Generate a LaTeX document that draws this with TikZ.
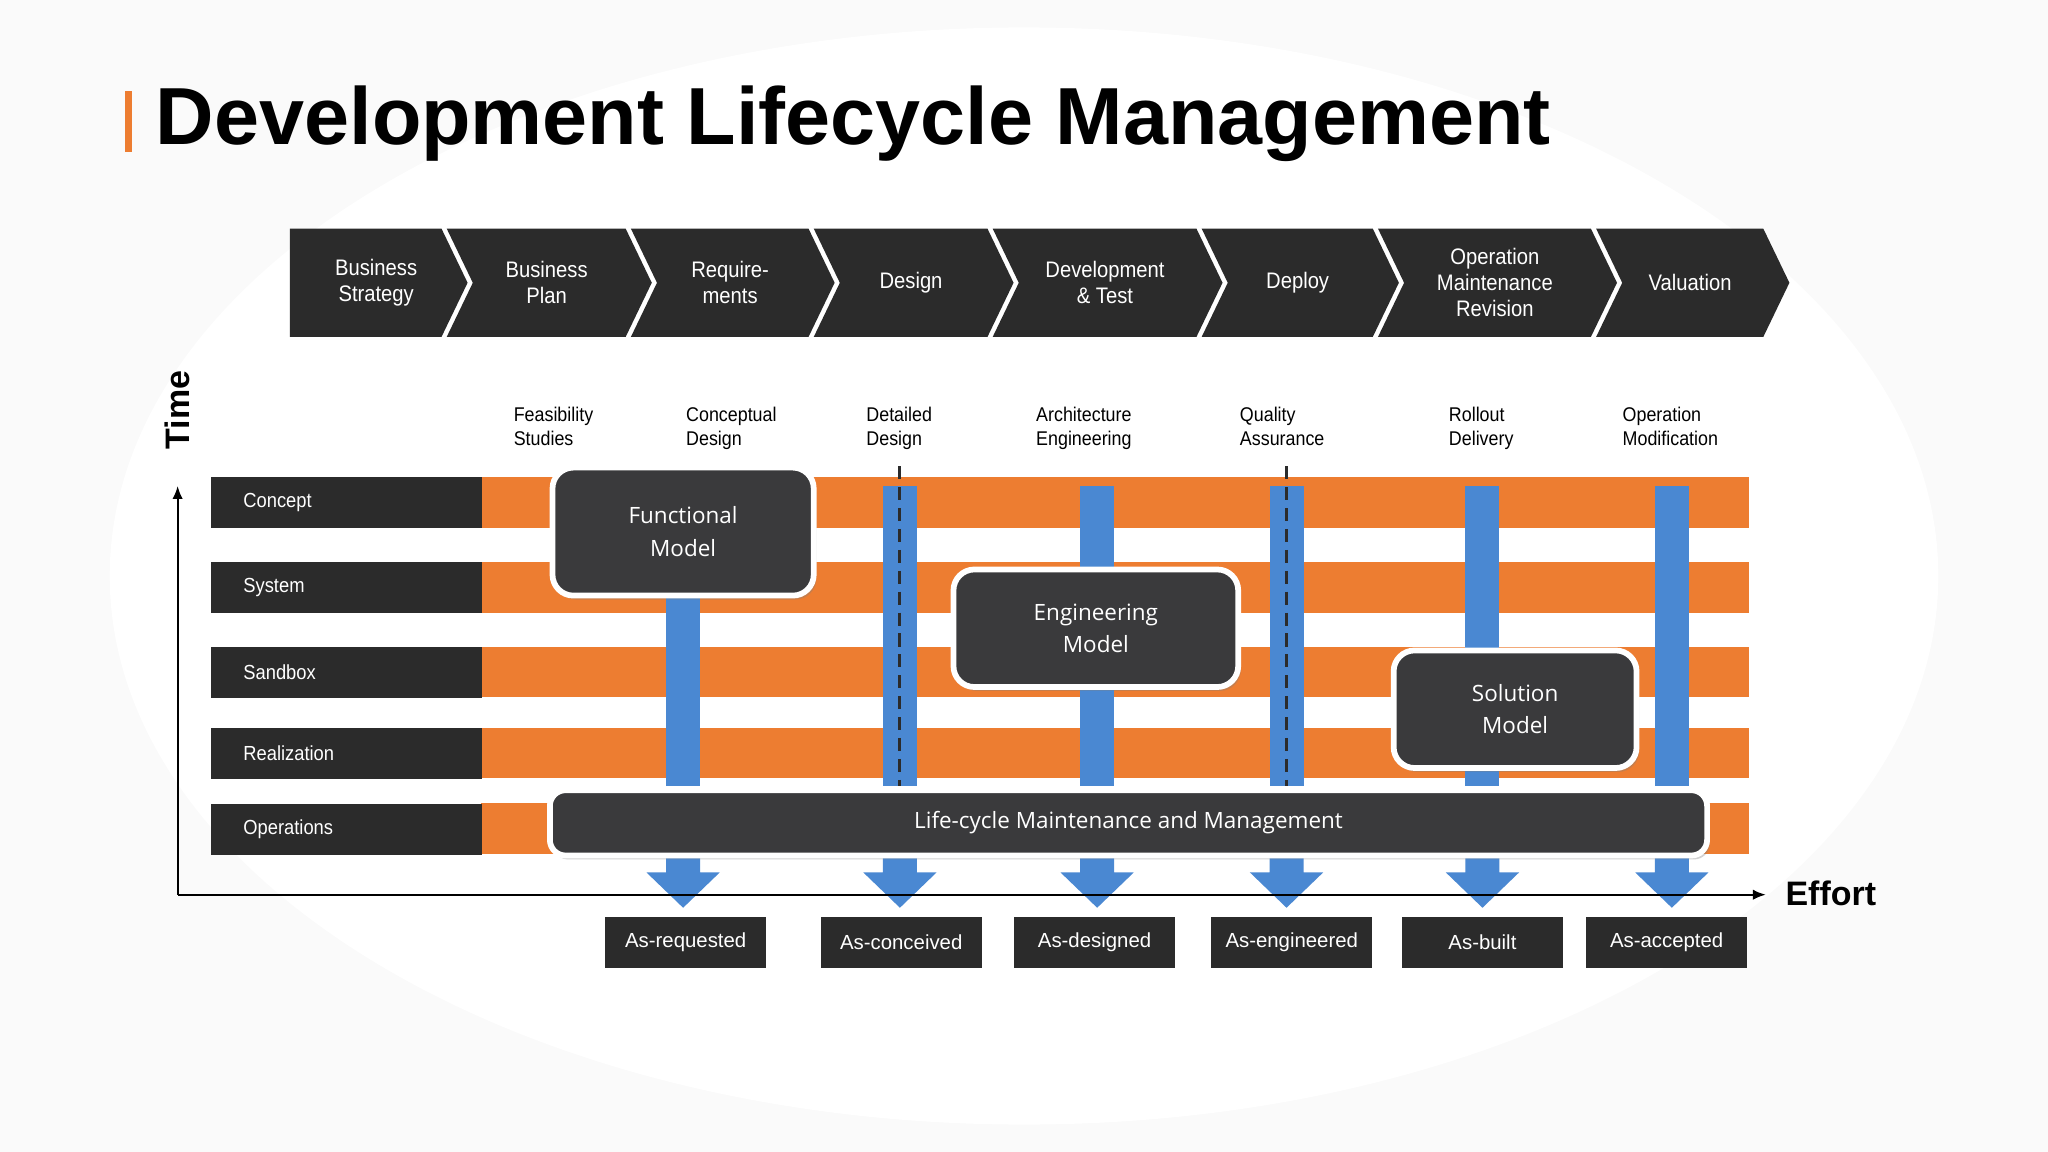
\documentclass[tikz,border=0pt]{standalone}
\usepackage{fontspec}
\setmainfont{Liberation Sans}
\newfontfamily\op{Open Sans}
\usetikzlibrary{shadows,arrows.meta}
\definecolor{dk}{HTML}{2B2B2B}
\definecolor{bx}{HTML}{3A3A3C}
\definecolor{org}{HTML}{ED7D31}
\definecolor{blu}{HTML}{4A88D2}
\begin{document}
\begin{tikzpicture}[x=0.5pt,y=-0.5pt,
 chev/.style={fill=dk},
 ctext/.style={text=white,font=\fontsize{8.6}{10}\selectfont,align=center,xscale=0.9},
 row/.style={fill=dk,minimum width=104pt,minimum height=19.5pt,anchor=north west,inner sep=0pt},
 rtext/.style={text=white,font=\fontsize{7.8}{9}\selectfont,xscale=0.9},
 model/.style={fill=bx,draw=white,line width=2.2pt,rounded corners=8pt,text=white,align=center,font=\op\fontsize{8.6}{12.5}\selectfont,drop shadow={opacity=0.35,shadow xshift=1pt,shadow yshift=-1.5pt}},
 outbox/.style={fill=dk,text=white,minimum width=61.5pt,minimum height=19.5pt,inner sep=0pt,font=\fontsize{7.8}{9}\selectfont},
 col/.style={anchor=north west,align=left,font=\fontsize{7.6}{9.5}\selectfont,inner sep=0pt,xscale=0.9},
 bar/.style={fill=blu},
]
\useasboundingbox (0,0) rectangle (1568,882);
\fill[white!96!gray] (0,0) rectangle (1568,882);
\fill[white] (784,441) ellipse [x radius=700, y radius=420];
% title
\fill[org] (96,70) rectangle (101,116);
\node[anchor=base west,inner sep=0pt,font=\bfseries\fontsize{31}{36}\selectfont] (title) at (119,111) {Development Lifecycle Management};
% chevrons
\foreach \a/\b/\t [count=\i] in {222/342/{Business\\Strategy},342/483/{Business\\Plan},483/623/{Require-\\ments},623/760/{Design},760/920/{Development\\\& Test},920/1055/{Deploy},1055/1222/{Operation\\Maintenance\\Revision},1222/1354/{Valuation}}{
 \ifnum\i=1
  \fill[chev] (\a,175) -- (\b-4,175) -- (\b+16,216.5) -- (\b-4,258) -- (\a,258) -- cycle;
 \else
  \fill[chev] (\a,175) -- (\b-4,175) -- (\b+16,216.5) -- (\b-4,258) -- (\a,258) -- (\a+20,216.5) -- cycle;
 \fi
 \node[ctext] (ch\i) at ({(\a+\b)/2+6},216.5) {\t};
}
% rows
\foreach \y/\t [count=\i] in {365/Concept,430/System,495/Sandbox,557/Realization,615/Operations}{
 \fill[org] (368,\y) rectangle (1339,\y+39);
 \node[row] (r\i) at (161,\y) {};
 \node[rtext,anchor=west] at (180,\y+19.5) {\t};
}
% blue bars
\foreach \x/\t in {523/458,689/372,840/372,985/372,1135/372,1280/372}{
 \fill[bar] (\x-13,\t) rectangle (\x+13,602);
 \fill[bar] (\x-13,655) -- (\x+13,655) -- (\x+13,668) -- (\x+28,668) -- (\x,695) -- (\x-28,668) -- (\x-13,668) -- cycle;
}
\foreach \x in {689,985}{\draw[dk,line width=1.2pt,dash pattern=on 5pt off 3pt] (\x,357) -- (\x,602);}
% axes
\coordinate (o) at (136,685);
\coordinate (ty) at (136,372);
\coordinate (tx) at (1352,685);
\draw[-{Latex[length=5pt,width=4pt]},line width=0.8pt] (o) -- (ty);
\draw[-{Latex[length=5pt,width=4pt]},line width=0.8pt] (o) -- (tx);
\node[anchor=west,font=\bfseries\fontsize{13}{15}\selectfont] (effort) at (1360,684) {Effort};
\node[rotate=90,font=\bfseries\fontsize{13}{15}\selectfont] (time) at (136,314) {Time};
% models
\node[model,minimum width=100pt,minimum height=49pt] (fm) at (523,407) {Functional\\Model};
\node[model,minimum width=109pt,minimum height=45pt] (em) at (839,481) {Engineering\\Model};
\node[model,minimum width=93pt,minimum height=45pt] (sm) at (1160,543) {Solution\\Model};
\node[model,minimum width=443pt,minimum height=25pt,rounded corners=6pt] (lc) at (864,630) {Life-cycle Maintenance and Management};
% column labels
\foreach \x/\t [count=\i] in {393/{Feasibility\\Studies},525/{Conceptual\\Design},663/{Detailed\\Design},793/{Architecture\\Engineering},949/{Quality\\Assurance},1109/{Rollout\\Delivery},1242/{Operation\\Modification}}{
 \node[col] (c\i) at (\x,311) {\t};
}
% outputs
\foreach \x/\t [count=\i] in {525/As-requested,690/As-conceived,838/As-designed,989/As-engineered,1135/As-built,1276/As-accepted}{
 \node[outbox] (o\i) at (\x,721.5) {\t};
}
\end{tikzpicture}
\end{document}
